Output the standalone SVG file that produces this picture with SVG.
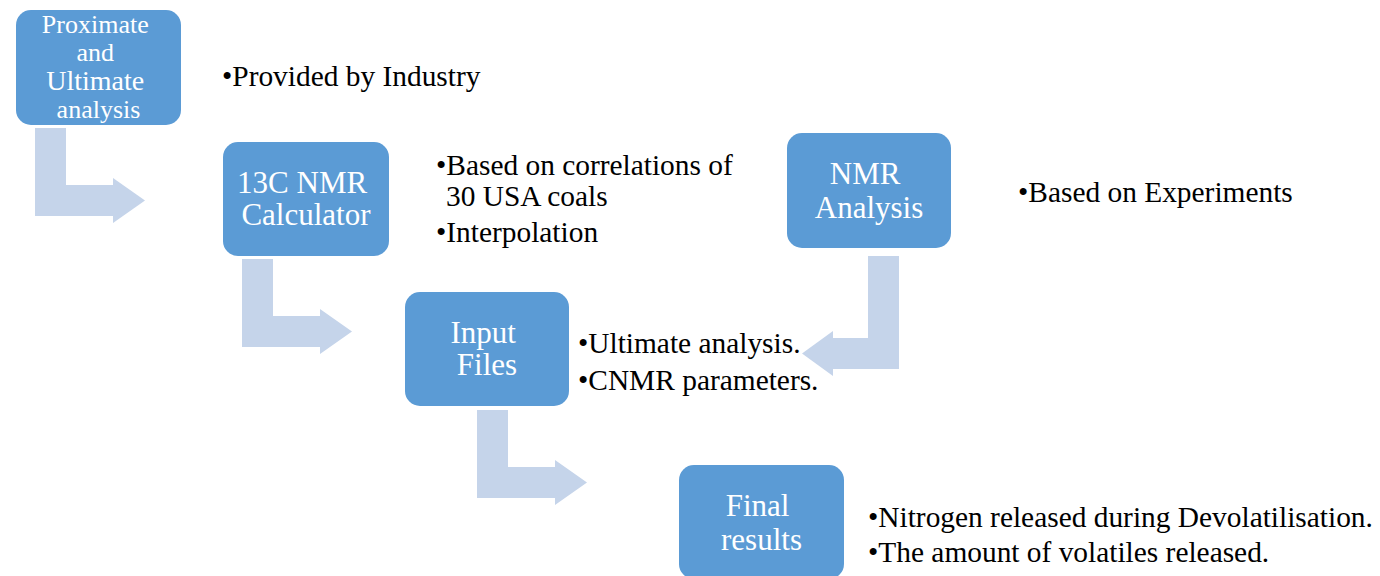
<svg xmlns="http://www.w3.org/2000/svg" width="1380" height="576" viewBox="0 0 1380 576">
  <style>
    .box { fill: #5B9BD5; }
    .arrow { fill: #C5D4EA; }
    .label { font-family: "Liberation Serif", "Times New Roman", serif; font-size: 31px; fill: #FFFFFF; text-anchor: middle; }
    .note { font-family: "Liberation Serif", "Times New Roman", serif; font-size: 29.4px; fill: #000000; }
  </style>
  <rect width="1380" height="576" fill="#FFFFFF"/>

  <!-- bent flow arrows -->
  <g id="connectors">
    <path class="arrow" d="M35,128 H66 V185 H113 V178 L145,200.5 L113,223 V216 H35 Z"/>
    <path class="arrow" d="M242,259 H273 V316 H320 V309 L352,331.5 L320,354 V347 H242 Z"/>
    <path class="arrow" d="M477,410 H508 V467 H555 V460 L587,482.5 L555,505 V498 H477 Z"/>
    <path class="arrow" d="M868,256 H899 V369 H833 V376 L802,353.5 L833,331 V338 H868 Z"/>
  </g>

  <g id="proximate">
    <rect class="box" x="16" y="10" width="165" height="115" rx="15"/>
    <text class="label" x="98.5" style="font-size:26px">
      <tspan x="98.5" y="33">Proximate</tspan>
      <tspan x="98.5" y="61">and</tspan>
      <tspan x="98.5" y="90" style="font-size:28px">Ultimate</tspan>
      <tspan x="98.5" y="118">analysis</tspan>
    </text>
    <text class="note" x="222" y="86">•Provided by Industry</text>
  </g>

  <g id="calculator">
    <rect class="box" x="223" y="142" width="166" height="114" rx="15"/>
    <text class="label">
      <tspan x="306" y="193">13C NMR</tspan>
      <tspan x="306" y="225">Calculator</tspan>
    </text>
    <text class="note">
      <tspan x="436" y="175">•Based on correlations of</tspan>
      <tspan x="446" y="206">30 USA coals</tspan>
      <tspan x="436" y="242">•Interpolation</tspan>
    </text>
  </g>

  <g id="nmr-analysis">
    <rect class="box" x="787" y="133" width="164" height="115" rx="15"/>
    <text class="label">
      <tspan x="869" y="184">NMR</tspan>
      <tspan x="869" y="218">Analysis</tspan>
    </text>
    <text class="note" x="1018" y="202">•Based on Experiments</text>
  </g>

  <g id="input-files">
    <rect class="box" x="405" y="292" width="164" height="114" rx="15"/>
    <text class="label">
      <tspan x="487" y="343">Input</tspan>
      <tspan x="487" y="375">Files</tspan>
    </text>
    <text class="note">
      <tspan x="578" y="353">•Ultimate analysis.</tspan>
      <tspan x="578" y="390">•CNMR parameters.</tspan>
    </text>
  </g>

  <g id="final-results">
    <rect class="box" x="679" y="465" width="165" height="114" rx="15"/>
    <text class="label">
      <tspan x="761.5" y="516">Final</tspan>
      <tspan x="761.5" y="550">results</tspan>
    </text>
    <text class="note">
      <tspan x="868" y="527">•Nitrogen released during Devolatilisation.</tspan>
      <tspan x="868" y="562">•The amount of volatiles released.</tspan>
    </text>
  </g>
</svg>
